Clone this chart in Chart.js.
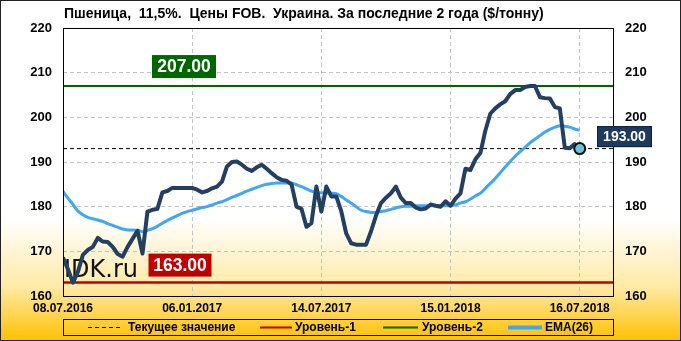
<!DOCTYPE html>
<html>
<head>
<meta charset="utf-8">
<script src="https://cdn.jsdelivr.net/npm/chart.js@4.4.1/dist/chart.umd.min.js"></script>
<style>
  html, body { margin: 0; padding: 0; background: #fff; }
  #wrap { width: 681px; height: 341px; }
</style>
</head>
<body>
<div id="wrap"><canvas id="chart" width="681" height="341"></canvas></div>
<script>
// Wheat 11.5%, FOB Ukraine, last 2 years ($/t), weekly points
const title = 'Пшеница,  11,5%.  Цены FOB.  Украина. За последние 2 года ($/тонну)';
const tickLabels = ['08.07.2016', '06.01.2017', '14.07.2017', '15.01.2018', '16.07.2018'];
const tickIndex = [0, 26, 52, 78, 104];
const yTicks = [160, 170, 180, 190, 200, 210, 220];

const price = [
  168.6, 166, 163, 165.4, 169.2, 170.3, 171, 173, 172.2, 172.1,
  171, 169.4, 168.8, 171, 172.8, 174.6, 169.5, 178.9, 179.3, 179.5,
  183.2, 183.5, 184.2, 184.2, 184.2, 184.2, 184.2, 183.8, 183.2, 183.5,
  184.1, 184.5, 185.6, 189, 190, 190.1, 189.4, 188.5, 188, 188.8,
  189.4, 188.5, 187.5, 186.6, 186, 185.8, 185, 180, 179.5, 175.5,
  176.3, 184.5, 178.9, 184.5, 182.3, 182.3, 179, 174, 171.8, 171.5,
  171.5, 171.5, 174.5, 178, 180.8, 182, 183, 184.5, 182, 180.8,
  180.8, 179.8, 179.4, 179.6, 180.5, 180.2, 180, 181.2, 180.2, 181.8,
  183, 188.5, 188.2, 190.6, 192, 197, 200.8, 202, 202.9, 203.6,
  205.2, 206.1, 206.1, 206.8, 207, 207, 204.5, 204.3, 204.2, 202.3,
  202, 193.2, 193.1, 194, 193
];

const ema = [
  183.4, 181.9, 180.5, 179, 178.2, 177.6, 177.3, 177, 176.7, 176.2,
  175.8, 175.4, 175, 174.8, 174.8, 174.7, 174.4, 174.7, 175.1, 175.6,
  176.3, 176.9, 177.5, 178, 178.5, 178.9, 179.2, 179.5, 179.8, 180,
  180.4, 180.8, 181.1, 181.6, 182.1, 182.5, 183, 183.5, 183.9, 184.3,
  184.7, 185, 185.2, 185.3, 185.3, 185.3, 185.3, 184.9, 184.5, 184,
  183.5, 183.2, 183.1, 183, 183, 182.9, 182.3, 181.5, 180.8, 180,
  179.2, 178.9, 178.7, 178.7, 178.9, 179.1, 179.4, 179.7, 180, 180.1,
  180.1, 180.2, 180.2, 180.2, 180.2, 180.2, 180.2, 180.2, 180.2, 180.4,
  180.8, 181.1, 181.7, 182.4, 183, 184.1, 185.2, 186.3, 187.6, 188.9,
  190.1, 191.3, 192.3, 193.3, 194.3, 195.1, 195.9, 196.7, 197.3, 197.8,
  198.1, 198, 197.8, 197.4, 197.1
];

const currentValue = 193;
const level1 = 163;
const level2 = 207;

const X_MIN = 0;
const X_MAX = 110.9;

const FONT = 'Liberation Sans, Arial, sans-serif';

const toPoints = arr => arr.map((v, i) => ({ x: i, y: v }));
const flat = v => [{ x: X_MIN, y: v }, { x: X_MAX, y: v }];

// background, frame, labels, legend
const decor = {
  id: 'decor',
  beforeDraw(chart) {
    const { ctx, width, height } = chart;
    const g = ctx.createLinearGradient(0, 0, 0, height);
    g.addColorStop(0, '#ffffff');
    g.addColorStop(0.64, '#ffffff');
    g.addColorStop(0.84, '#ffeaa6');
    g.addColorStop(1, '#ffc000');
    ctx.save();
    ctx.fillStyle = g;
    ctx.fillRect(0, 0, width, height);
    ctx.restore();
  },
  beforeDatasetsDraw(chart) {
    const { ctx, chartArea } = chart;
    ctx.save();
    ctx.fillStyle = '#111';
    ctx.font = '24px DejaVu Sans, sans-serif';
    ctx.textBaseline = 'alphabetic';
    ctx.fillText('IDK.ru', chartArea.left + 1, 277);
    ctx.restore();
  },
  afterDraw(chart) {
    const { ctx, chartArea, width, height } = chart;
    const y = chart.scales.y;
    ctx.save();

    // plot frame
    ctx.strokeStyle = '#000';
    ctx.lineWidth = 1;
    ctx.strokeRect(chartArea.left + 0.5, chartArea.top + 0.5,
      chartArea.right - chartArea.left - 1, chartArea.bottom - chartArea.top);

    // title
    ctx.fillStyle = '#000';
    ctx.font = 'bold 14px ' + FONT;
    ctx.textBaseline = 'middle';
    ctx.textAlign = 'left';
    ctx.fillText(title, chartArea.left + 1, 14);

    // level boxes
    const box = (text, cx, bottom, w, h, bg, size) => {
      ctx.fillStyle = bg;
      ctx.fillRect(cx - w / 2, bottom - h, w, h);
      ctx.fillStyle = '#fff';
      ctx.font = 'bold ' + size + 'px ' + FONT;
      ctx.textAlign = 'center';
      ctx.textBaseline = 'middle';
      ctx.fillText(text, cx, bottom - h / 2 + 1);
    };
    box(level2.toFixed(2), 184, y.getPixelForValue(level2) - 8, 64, 23, '#006600', 17.5);
    box(level1.toFixed(2), 180, y.getPixelForValue(level1) - 6, 63, 23, '#c00000', 17.5);

    // current value tag on the right
    const cy = y.getPixelForValue(currentValue) - 12;
    ctx.fillStyle = '#1f3a5f';
    ctx.fillRect(597, cy - 10.5, 55, 21);
    ctx.strokeStyle = '#0e2038';
    ctx.strokeRect(597.5, cy - 10, 54, 20);
    ctx.fillStyle = '#fff';
    ctx.font = 'bold 14px ' + FONT;
    ctx.textAlign = 'center';
    ctx.fillText(currentValue.toFixed(2), 624.5, cy + 1);

    // legend
    const ly = 327.5;
    ctx.strokeStyle = '#000';
    ctx.lineWidth = 1;
    ctx.strokeRect(chartArea.left + 0.5, 319.5, chartArea.right - chartArea.left - 1, 16);
    const items = [
      { ds: 2, x0: 88, x1: 121, tx: 128 },
      { ds: 3, x0: 260, x1: 292, tx: 295 },
      { ds: 4, x0: 383, x1: 418, tx: 422 },
      { ds: 1, x0: 508, x1: 542, tx: 545 }
    ];
    ctx.font = 'bold 12px ' + FONT;
    ctx.textAlign = 'left';
    ctx.textBaseline = 'middle';
    items.forEach(it => {
      const d = chart.data.datasets[it.ds];
      ctx.save();
      ctx.strokeStyle = d.borderColor;
      ctx.lineWidth = d.legendWidth;
      ctx.setLineDash(d.borderDash || []);
      ctx.beginPath();
      ctx.moveTo(it.x0, ly);
      ctx.lineTo(it.x1, ly);
      ctx.stroke();
      ctx.restore();
      ctx.fillStyle = '#000';
      ctx.fillText(d.label, it.tx, ly + 0.5);
    });

    // outer frame
    ctx.strokeStyle = '#222';
    ctx.strokeRect(0.5, 0.5, width - 1, height - 1);
    ctx.restore();
  }
};

new Chart(document.getElementById('chart'), {
  type: 'line',
  data: {
    datasets: [
      {
        label: 'Цена',
        data: toPoints(price),
        borderColor: '#233f62',
        borderWidth: 4,
        borderJoinStyle: 'round',
        tension: 0,
        pointRadius: c => (c.dataIndex === price.length - 1 ? 5.5 : 0),
        pointBackgroundColor: '#6cc1d9',
        pointBorderColor: '#111',
        pointBorderWidth: 2,
        order: 1
      },
      {
        label: 'EMA(26)',
        data: toPoints(ema),
        borderColor: '#41a6f6',
        borderWidth: 3,
        legendWidth: 4,
        pointRadius: 0,
        tension: 0.3,
        order: 2
      },
      {
        label: 'Текущее значение',
        data: flat(currentValue),
        borderColor: '#000',
        borderWidth: 1,
        legendWidth: 1,
        borderDash: [4, 3],
        pointRadius: 0,
        order: 3
      },
      {
        label: 'Уровень-1',
        data: flat(level1),
        borderColor: '#c00000',
        borderWidth: 2.5,
        legendWidth: 2,
        pointRadius: 0,
        order: 4
      },
      {
        label: 'Уровень-2',
        data: flat(level2),
        borderColor: '#006600',
        borderWidth: 2,
        legendWidth: 2,
        pointRadius: 0,
        order: 5
      }
    ]
  },
  options: {
    responsive: false,
    animation: false,
    events: [],
    layout: { padding: { top: 28, left: 0, right: 0, bottom: 25 } },
    plugins: { legend: { display: false }, title: { display: false }, tooltip: { enabled: false } },
    scales: {
      x: {
        type: 'linear',
        min: X_MIN,
        max: X_MAX,
        afterBuildTicks: s => { s.ticks = tickIndex.map(v => ({ value: v })); },
        afterFit: s => { s.height = 20; },
        ticks: {
          autoSkip: false,
          maxRotation: 0,
          padding: 5,
          color: '#000',
          font: { family: FONT, size: 12, weight: 'bold' },
          callback: v => tickLabels[tickIndex.indexOf(v)]
        },
        grid: { color: '#c4c4c4', drawTicks: false },
        border: { display: false, dash: [4, 3] }
      },
      y: {
        position: 'left',
        min: 160,
        max: 220,
        afterBuildTicks: s => { s.ticks = yTicks.map(v => ({ value: v })); },
        afterFit: s => { s.width = 63; },
        ticks: {
          padding: 11,
          color: '#000',
          font: { family: FONT, size: 13, weight: 'bold' }
        },
        grid: { color: '#c4c4c4', drawTicks: false },
        border: { display: false, dash: [4, 3] }
      },
      y2: {
        position: 'right',
        min: 160,
        max: 220,
        afterBuildTicks: s => { s.ticks = yTicks.map(v => ({ value: v })); },
        afterFit: s => { s.width = 67; },
        ticks: {
          padding: 11,
          color: '#000',
          font: { family: FONT, size: 13, weight: 'bold' }
        },
        grid: { drawOnChartArea: false, drawTicks: false },
        border: { display: false }
      }
    }
  },
  plugins: [decor]
});
</script>
</body>
</html>
